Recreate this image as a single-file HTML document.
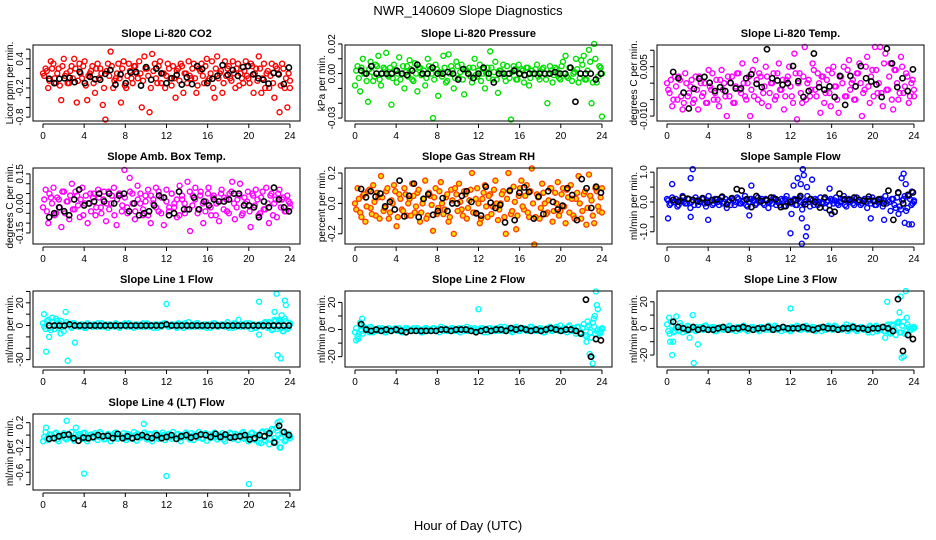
<!DOCTYPE html>
<html><head><meta charset="utf-8">
<style>
html,body{margin:0;padding:0;background:#fff;}
svg{display:block;font-family:"Liberation Sans",Arial,sans-serif;}
</style></head>
<body>
<svg id="chart" width="936" height="540" viewBox="0 0 936 540" xmlns="http://www.w3.org/2000/svg">
<rect x="0" y="0" width="936" height="540" fill="#fff"/>
<text x="468" y="15" text-anchor="middle" font-size="13">NWR_140609  Slope Diagnostics</text>
<text x="468" y="530" text-anchor="middle" font-size="13">Hour of Day (UTC)</text>
<g id="panels"></g>
</svg>
<script>
// ---- data ----
const xTicks = [0,4,8,12,16,20,24];
const p1c = [0.1,0.2,-0.2,0.35,0.3,-0.1,0.2,-0.45,0.4,0.1,-0.1,0.25,0.4,-0.5,0.3,0.0,0.35,-0.45,0.1,0.25,-0.3,0.3,0.2,-0.55,-0.85,0.3,0.55,-0.2,0.0,0.3,-0.5,0.35,-0.2,0.3,0.0,0.25,0.1,0.35,-0.6,0.45,0.2,-0.7,0.5,0.3,-0.1,0.35,0.1,-0.2,0.3,0.0,0.25,-0.4,0.2,0.3,-0.3,0.1,0.35,0.0,0.3,-0.3,0.2,0.3,-0.1,0.4,0.0,0.35,-0.4,0.45,0.1,-0.3,0.35,0.2,0.0,0.35,-0.2,0.3,0.1,-0.1,0.35,0.0,0.3,-0.3,0.2,0.45,-0.3,0.3,0.1,-0.2,0.3,-0.4,0.2,-0.7,0.3,-0.2,-0.6,-0.2];
const q1c = [0.05,0.15,-0.05,0.2,0.0,0.1,-0.15,0.25,0.05,-0.1,0.15,0.0,0.2,-0.05,0.1,0.25,-0.15,0.05,0.15,-0.1,0.2,0.0,0.1,-0.2,0.15,0.05,0.25,-0.05,0.1,0.0,0.2,-0.15,0.05,0.15,-0.1,0.25,0.0,0.1,-0.05,0.2,0.05,-0.2,0.15,0.0,0.25,-0.1,0.1,0.05,0.2,-0.15,0.0,0.15,-0.05,0.25,0.1,-0.1,0.05,0.2,0.0,-0.15,0.15,0.05,0.25,-0.05,0.1,-0.2,0.2,0.0,0.15,-0.1,0.05,0.25,-0.05,0.1,0.2,-0.15,0.0,0.15,0.05,-0.1,0.25,0.1,-0.05,0.2,0.0,-0.2,0.15,0.05,-0.1,0.25,0.1,-0.15,0.2,0.0,0.1,-0.05];
const p1k = [-0.01,-0.1,-0.01,0,0.01,-0.08,0.13,-0.1,0.03,-0.02,-0.03,0.09,0.17,-0.13,0.08,-0.1,0.12,0.13,-0.15,0.23,-0.03,0.2,0.1,-0.1,0,0.07,-0.13,0.02,-0.12,0.25,0.19,-0.1,-0.01,0.05,0.27,0.07,0.17,0.05,0.23,0.25,0.08,0,-0.03,-0.11,0.11,0.08,-0.12,0.22];
const p2c = [-0.008,0.005,-0.012,0.01,0.0,-0.019,0.008,-0.005,0.006,0.012,-0.008,0.004,0.014,-0.002,-0.021,0.006,-0.006,0.011,0.0,-0.01,0.005,0.009,-0.004,0.007,-0.012,0.004,0.0,-0.008,0.01,0.003,-0.03,0.006,-0.015,0.0,0.012,-0.006,0.013,0.005,-0.01,0.008,-0.003,0.006,-0.014,0.002,0.004,-0.006,0.01,-0.002,0.006,0.0,-0.01,0.004,0.015,-0.004,0.008,-0.013,0.002,0.006,-0.005,0.0,-0.031,0.005,-0.004,0.006,0.003,-0.006,0.004,-0.008,0.002,0.0,0.006,-0.004,0.003,0.0,-0.02,0.005,-0.006,0.004,0.0,-0.004,0.008,0.012,-0.003,0.004,0.0,0.01,-0.006,0.009,0.012,-0.004,0.016,-0.02,0.02,-0.006,0.005,-0.029];
const q2c = [0.002,-0.003,0.004,0.0,-0.005,0.003,0.001,-0.002,0.005,-0.004,0.0,0.003,-0.001,0.004,-0.003,0.002,0.0,-0.004,0.005,0.001,-0.002,0.003,-0.005,0.0,0.004,-0.001,0.002,-0.003,0.005,0.0,-0.004,0.003,0.001,-0.002,0.004,-0.005,0.0,0.002,-0.003,0.005,0.001,-0.004,0.003,0.0,-0.002,0.004,-0.001,0.002,-0.005,0.003,0.0,-0.003,0.004,0.001,-0.004,0.002,0.0,-0.002,0.005,-0.003,0.001,0.003,-0.004,0.0,0.002,-0.001,0.004,-0.003,0.0,0.003,-0.002,0.001,0.004,-0.004,0.0,0.002,-0.001,0.003,-0.003,0.005,0.0,-0.002,0.004,-0.005,0.001,0.003,-0.003,0.006,-0.004,0.002,0.008,-0.006,0.01,-0.002,0.004,0.0];
const p2k = [0.002,0.0,0.005,0.0,0.0,0.0,0.0,0.002,0.0,-0.001,0.002,0.006,0.0,0.0,0.004,0.0,0.0,0.001,0.0,-0.004,0.003,0.0,-0.003,0.0,0.004,0.0,-0.006,0.0,0.0,0.0,0.002,0.0,-0.001,0.0,0.0,0.0,0.0,0.0,0.001,0.0,0.0,0.004,-0.019,0.0,0.0,0.0,-0.004,0.0];
const p3c = [0.0,-0.003,-0.007,0.002,-0.005,0.001,-0.008,0.003,-0.004,-0.001,-0.006,0.002,-0.008,0.0,-0.003,-0.006,0.004,-0.002,-0.005,0.001,-0.007,0.004,0.0,-0.01,-0.004,0.002,-0.006,0.003,-0.002,0.006,-0.004,0.0,-0.01,0.004,0.007,-0.005,0.002,-0.003,0.005,-0.007,0.0,0.003,-0.004,0.006,-0.002,-0.008,0.001,0.005,-0.004,0.009,-0.011,0.003,-0.006,0.011,0.0,-0.004,0.006,-0.002,0.003,-0.009,0.002,-0.003,0.004,-0.007,0.005,-0.001,-0.009,0.002,0.005,-0.004,0.007,0.0,-0.005,0.003,0.006,-0.01,-0.002,0.008,-0.006,0.004,0.011,-0.003,0.011,-0.007,0.009,-0.002,0.006,-0.008,0.004,-0.005,0.008,-0.003,0.003,-0.006,0.0,-0.004];
const q3c = [-0.002,0.001,-0.005,-0.001,0.002,-0.004,-0.006,0.0,-0.003,0.001,-0.005,-0.002,0.002,-0.004,0.0,-0.006,-0.001,0.003,-0.003,-0.005,0.001,-0.002,-0.004,0.002,0.0,-0.006,-0.001,0.003,-0.003,0.0,-0.005,0.002,-0.002,-0.004,0.001,0.003,-0.006,-0.001,0.002,-0.003,0.0,-0.005,0.003,-0.002,0.001,-0.004,0.002,-0.001,-0.006,0.003,0.0,-0.003,0.002,-0.005,0.001,-0.002,0.004,-0.004,0.0,0.002,-0.006,0.001,-0.003,0.003,-0.001,-0.005,0.002,0.0,-0.004,0.004,-0.002,0.001,-0.005,0.003,0.0,-0.003,0.005,-0.001,0.002,-0.004,0.004,0.0,-0.003,0.006,-0.002,0.002,-0.005,0.004,0.0,-0.003,0.005,-0.001,0.002,-0.004,0.001,-0.002];
const p3k = [0.0034,0.0015,-0.0029,-0.0077,-0.0017,0.0014,0.0019,0.0001,-0.0024,-0.0012,-0.0024,0.0001,-0.0016,-0.0016,0.0015,0.0027,-0.0002,-0.0012,0.0103,0.0015,0.0008,-0.0005,0.0,0.0052,0.0006,-0.0042,-0.0024,0.009,-0.0012,-0.002,-0.001,-0.0042,0.0022,-0.0066,0.0022,-0.001,0.0052,0.0015,0.0005,-0.0004,-0.0042,0.0105,0.006,-0.0012,0.0015,-0.0024,0.0042];
const p4c = [-0.02,0.07,-0.1,0.03,0.08,-0.05,0.02,-0.12,0.06,0.01,-0.08,0.1,-0.03,0.04,-0.07,0.08,0.0,-0.1,0.05,0.03,-0.06,0.07,-0.02,0.02,-0.09,0.06,0.0,0.08,-0.11,0.05,-0.04,0.17,-0.02,0.13,0.05,-0.08,0.09,0.0,-0.06,0.04,0.07,-0.1,0.02,0.08,-0.04,0.03,-0.11,0.07,-0.02,0.05,0.0,-0.07,0.09,0.02,-0.05,0.11,-0.14,0.04,0.08,-0.03,0.06,-0.1,0.01,0.08,-0.06,0.04,0.0,-0.09,0.07,0.03,-0.04,0.05,0.11,-0.08,0.02,0.1,-0.05,0.0,0.06,-0.12,0.04,0.07,-0.06,0.03,-0.03,0.08,-0.1,0.05,0.0,-0.07,0.07,0.02,-0.04,0.04,-0.02];
const q4c = [0.02,-0.04,0.05,0.0,-0.06,0.03,-0.02,0.06,-0.05,0.01,0.04,-0.03,0.06,-0.01,0.02,-0.06,0.04,0.0,-0.04,0.05,-0.02,0.03,-0.05,0.06,0.0,-0.03,0.04,-0.06,0.02,0.05,-0.01,0.03,-0.05,0.06,0.0,-0.04,0.02,0.05,-0.03,0.01,-0.06,0.04,0.0,-0.02,0.06,-0.05,0.03,0.01,-0.04,0.05,-0.02,0.02,-0.06,0.04,0.0,-0.03,0.06,-0.01,0.02,-0.05,0.04,0.0,-0.04,0.05,-0.02,0.03,-0.06,0.01,0.05,-0.03,0.02,-0.05,0.06,0.0,-0.02,0.04,-0.06,0.03,0.01,-0.04,0.05,-0.01,0.02,-0.05,0.06,-0.03,0.0,0.04,-0.06,0.02,0.05,-0.02,0.03,-0.04,0.01,0.0];
const p4k = [-0.07,-0.05,-0.02,-0.04,-0.06,0.02,0.07,-0.01,0.0,0.01,0.05,0.01,0.05,0.0,0.04,0.05,-0.04,0,-0.06,-0.05,-0.04,-0.01,0.04,0.03,-0.06,-0.05,0.06,-0.03,-0.03,0.03,-0.03,0.01,-0.01,0.02,0.01,0.01,0.02,0.05,0.05,-0.01,-0.01,-0.02,-0.07,0.01,-0.02,0.08,0.02,-0.02,-0.04];
const p5c = [0.0,0.1,-0.06,0.05,-0.12,0.08,-0.03,0.12,-0.08,0.04,0.18,-0.05,0.08,-0.1,0.02,0.12,-0.15,0.06,-0.04,0.1,-0.08,0.03,0.13,-0.06,0.07,-0.12,0.0,0.15,-0.08,0.05,-0.18,0.1,-0.03,0.14,-0.07,0.04,-0.12,0.09,-0.2,0.06,0.13,-0.04,0.08,-0.1,0.02,0.2,-0.06,0.1,-0.13,0.03,0.12,-0.09,0.06,-0.02,0.15,-0.11,0.0,0.08,-0.2,0.2,-0.07,0.11,-0.17,0.05,0.15,-0.04,0.12,-0.09,0.23,-0.27,0.06,-0.1,0.13,0.0,-0.06,0.1,-0.12,0.07,0.14,-0.05,0.1,-0.13,0.04,0.12,-0.08,0.03,0.18,-0.1,0.06,-0.14,0.19,0.02,-0.13,0.08,-0.05,0.1];
const q5c = [-0.04,0.03,-0.09,0.06,-0.02,0.09,-0.07,0.01,0.07,-0.1,0.04,-0.03,0.1,-0.06,0.0,0.08,-0.09,0.03,-0.05,0.06,0.0,-0.08,0.05,-0.02,0.09,-0.06,0.03,-0.1,0.07,-0.01,0.04,-0.07,0.08,0.0,-0.04,0.06,-0.09,0.02,0.1,-0.05,0.01,-0.08,0.06,-0.03,0.09,-0.06,0.03,0.0,-0.1,0.07,-0.02,0.05,-0.07,0.09,0.0,-0.04,0.06,-0.09,0.03,0.08,-0.05,0.01,-0.08,0.1,-0.02,0.05,-0.06,0.08,0.0,-0.09,0.04,-0.03,0.07,-0.07,0.02,0.1,-0.05,0.0,-0.08,0.06,-0.02,0.09,-0.06,0.03,-0.1,0.07,0.0,-0.05,0.08,-0.03,0.05,-0.08,0.1,-0.02,0.04,-0.06];
const p5k = [0.095,0.04,0.08,0.045,0.065,-0.02,0.01,-0.04,0.15,-0.085,0.05,0.13,-0.09,0.03,0.06,-0.075,-0.05,0.035,-0.05,0.0,0.0,0.05,0.08,0.01,-0.065,-0.08,0.11,0.005,-0.03,-0.01,-0.125,0.085,-0.11,0.07,0.105,0.075,-0.1,0.045,-0.07,0.08,0.01,-0.04,-0.015,0.1,0.055,-0.11,0.16,0.1,-0.03,0.11,0.07];
const p6c = [0.1,-0.1,0.15,0.0,-0.15,0.05,0.2,-0.05,0.1,-0.2,0.05,0.15,-0.1,0.0,0.1,-0.15,0.2,0.05,-0.05,0.1,-0.1,0.15,0.0,-0.2,0.05,0.1,-0.1,0.15,-0.05,0.0,0.2,-0.15,0.1,0.05,-0.1,0.15,0.0,-0.05,0.1,-0.2,0.05,0.15,-0.1,0.0,0.1,-0.15,0.2,0.05,-0.05,0.1,-0.1,0.15,-0.25,0.0,0.2,-0.15,0.05,0.1,-0.1,0.15,0.0,-0.2,0.05,0.1,-0.05,0.15,-0.1,0.0,0.2,-0.15,0.1,0.05,-0.1,0.15,0.0,-0.05,0.1,-0.2,0.05,0.15,-0.1,0.0,0.1,-0.15,0.2,0.05,-0.3,0.1,-0.2,0.3,-0.25,0.1,-0.3,0.2,-0.1,0.0];
const q6c = [0.05,-0.05,0.0,0.1,-0.1,0.05,0.0,-0.05,0.1,0.0,-0.1,0.05,0.0,0.1,-0.05,0.05,0.0,-0.1,0.1,0.0,0.05,-0.05,0.1,0.0,-0.1,0.05,0.0,0.1,-0.05,0.05,-0.1,0.0,0.1,0.05,-0.05,0.0,0.1,-0.1,0.05,0.0,-0.05,0.1,0.0,-0.1,0.05,0.1,-0.05,0.0,0.05,-0.1,0.1,0.0,-0.05,0.05,0.0,0.1,-0.1,0.05,0.0,-0.05,0.1,0.0,-0.1,0.05,0.05,-0.05,0.0,0.1,-0.1,0.05,0.0,-0.05,0.1,0.0,-0.1,0.05,0.0,0.1,-0.05,0.05,-0.1,0.0,0.1,0.05,-0.05,0.0,0.1,-0.1,0.15,-0.15,0.05,0.2,-0.2,0.1,-0.05,0.05];
const p6oh = [0.1,0.5,2.3,2.5,2.3,4.0,8.2,8.0,15.8,16.0,12.0,12.3,12.1,12.7,13.0,13.2,13.3,13.1,13.1,13.5,13.6,13.6,14.1,19.8,21.1,22.8,23.0,23.2,22.5,23.1,23.5,23.8,23.8];
const p6ov = [-0.55,0.6,0.8,1.1,-0.5,-0.6,0.55,-0.45,0.45,-0.4,-1.05,0.55,-0.4,0.8,0.6,1.1,0.9,-0.55,-1.4,-1.15,-0.85,0.5,0.75,-0.55,-0.6,0.8,0.95,0.6,-0.4,-0.7,-0.75,-0.75,0.35];
const p6k = [0.07,0.01,0.15,0.11,0.07,0.03,0.13,-0.02,0.06,0.09,0.18,-0.08,0.13,0.43,0.38,0.09,-0.17,0.2,0.03,0.06,0.15,0.09,-0.17,-0.14,0,0.06,0.2,-0.08,0.09,0,-0.19,0.15,-0.28,-0.33,0.28,0.09,0.07,0.15,0.07,0.03,0.18,0.03,0.09,-0.05,0.38,-0.6,0.32,-0.05,0.24,0.32];
const p7c = [2,-3,5,-4,3,6,-2,4,-5,3,1,-2,2,0,-1,1,-2,2,0,-1,1,2,-1,0,1,-2,1,0,2,-1,0,1,-1,2,0,-2,1,0,-1,1,2,-1,0,1,-2,1,0,2,-1,0,1,-1,2,0,-2,1,3,-1,1,2,-1,0,1,-2,1,0,2,-1,0,1,-1,3,0,-2,1,0,-1,1,2,-1,-3,1,-2,1,0,2,-1,3,-4,5,-3,4,-2,6,-3,2];
const q7c = [-1,4,-2,3,-3,1,2,-1,0,1,-1,2,0,-1,1,0,-2,1,0,1,-1,0,2,-1,0,1,0,-1,1,-2,0,2,1,-1,0,1,-1,0,2,-1,1,0,-2,1,0,-1,2,0,-1,1,0,-2,1,0,2,-1,0,1,-1,2,0,-1,1,0,-2,2,0,-1,1,0,1,-2,0,2,-1,0,1,-1,0,2,1,-2,0,1,-1,3,-2,2,-3,4,-1,3,-5,4,-2,1];
const p7oh = [0.1,0.3,0.6,0.9,1.4,1.7,2.2,2.4,3.1,12.0,19.0,21.0,21.0,22.5,22.7,22.8,23.1,23.2,23.5,23.6,23.3,22.9];
const p7ov = [10,-23,-10,7,4,-7,12,-31,-15,19,5,21,-8,12,28,-26,-29,9,22,18,-5,5];
const p7k = [0,0,0,0,1,0,0,0,0,0,0,0,0,0,0,0,0,0,0,0,0,0,0,1,0,0,0,0,0,0,0,0,0,0,0,0,0,0,0,0,0,0,0,0,0,0,0,0];
const p8c = [-2,-5,3,-3,1,-1,2,-2,0,1,-1,0,-2,1,-1,0,-1,1,-2,0,1,-1,0,-1,1,0,-2,1,-1,0,1,-1,0,2,-1,0,-1,1,0,-1,1,0,-1,2,0,-1,1,0,-1,1,0,-2,1,0,-1,1,2,-1,0,1,-1,0,2,-1,0,1,-1,0,2,0,-1,1,0,-2,1,2,-1,0,1,3,-1,0,2,-1,1,-3,2,-2,4,-5,3,-6,2,-1,-2,0];
const q8c = [1,-3,-1,2,0,-2,1,-1,-1,0,1,-2,0,-1,0,1,-1,0,-2,1,0,-1,1,0,-1,-2,0,1,0,-1,1,0,-2,0,1,-1,0,1,-1,0,-2,1,0,-1,1,0,-1,0,1,-2,0,1,-1,0,1,-1,0,2,-1,0,-2,1,0,-1,1,0,-1,2,0,-1,0,1,-2,0,1,-1,0,2,-1,0,1,-2,3,-1,0,2,-3,1,-4,2,-2,5,-3,0,-1,1];
const p8oh = [0.1,0.3,0.5,0.7,12.0,22.5,22.8,23.0,23.1,23.2,23.3,23.4,23.5,23.6,23.8,22.6];
const p8ov = [-8,-7,5,8,15,-9,-18,-20,-25,8,10,28,18,15,-3,6];
const p8k = [4,0,-1,0,-1,0,-1,0,-1,-2,-1,-1,-1,-1,-1,-1,0,0,-1,0,0,0,-1,-2,-1,0,-1,0,0,-1,1,0,1,0,-1,0,-1,0,1,0,-1,0,0,-1,-3,22,-20,-7,-8];
const p9c = [3,-4,2,-2,1,4,-3,0,2,-1,1,-2,0,1,-1,2,-1,0,1,-2,0,1,-1,0,2,-1,0,1,-1,0,1,-2,0,1,0,-1,1,0,-1,2,0,-1,1,0,-2,1,0,-1,1,0,2,-1,0,1,-1,0,1,-2,0,1,0,-1,2,0,-1,1,0,-1,1,3,-1,0,1,-2,0,1,-1,0,2,-3,1,-2,0,1,-2,3,-4,2,-5,4,-3,5,-2,1,-1,0];
const q9c = [-2,5,-3,1,-1,2,0,-2,1,0,-1,1,-1,0,2,-1,0,1,-2,0,1,-1,0,1,-1,0,-2,1,0,2,-1,0,1,-1,0,-2,1,0,1,-1,0,2,-1,0,1,-1,0,-2,1,0,1,-1,0,2,-1,0,1,-1,0,-2,1,0,1,-1,2,0,-1,0,1,-2,0,2,-1,0,1,-1,0,-3,1,0,2,-1,1,-2,2,-3,3,-1,4,-3,2,-4,3,-1,0,1];
const p9oh = [0.2,0.3,0.5,0.6,0.9,1.2,2.2,2.5,2.6,3.0,12.0,21.2,21.4,22.5,22.6,22.7,22.8,23.0,23.2,23.3,23.5];
const p9ov = [8,-10,-20,-10,9,-2,-7,10,-26,-12,15,-7,20,5,12,24,-22,-21,28,8,-5];
const p9k = [5,1,0,-1,1,-1,0,-1,-1,0,1,-1,0,0,1,0,-1,0,0,1,-1,0,1,0,0,0,1,0,-1,0,1,0,0,-1,0,0,1,0,0,-1,0,0,1,0,-2,22,-17,-5,-8];
const p10c = [-0.1,0.05,-0.08,0.0,-0.05,0.04,-0.1,-0.02,0.03,-0.07,0.0,0.05,-0.09,-0.03,0.02,-0.06,0.04,-0.1,0.0,-0.04,0.03,-0.08,0.05,-0.02,-0.06,0.02,-0.1,0.0,0.04,-0.05,-0.02,0.03,-0.08,0.01,-0.04,0.05,-0.09,0.0,-0.03,0.04,-0.07,0.02,-0.1,0.03,0.0,-0.05,0.04,-0.08,0.01,-0.03,0.05,-0.06,0.02,-0.1,0.0,0.04,-0.04,0.03,-0.08,0.0,0.05,-0.05,0.02,-0.09,0.01,-0.03,0.04,-0.07,0.0,0.03,-0.1,-0.02,0.04,-0.06,0.02,-0.08,0.0,0.05,-0.04,-0.1,0.03,-0.06,0.0,-0.12,0.04,-0.08,0.06,-0.15,0.1,-0.05,0.12,-0.2,0.05,-0.1,0.0,-0.05];
const q10c = [-0.03,-0.06,0.01,-0.04,0.02,-0.07,-0.01,0.0,-0.05,0.02,-0.03,-0.06,0.01,0.0,-0.04,0.03,-0.06,-0.02,0.01,-0.05,0.0,-0.03,0.02,-0.07,-0.01,0.0,-0.04,0.03,-0.06,0.01,-0.03,-0.05,0.02,-0.01,-0.06,0.0,0.02,-0.04,-0.02,0.01,-0.05,0.0,-0.03,0.03,-0.06,-0.01,0.0,-0.04,0.02,-0.06,-0.02,0.01,-0.05,0.0,-0.03,0.02,-0.07,-0.01,0.01,-0.04,0.0,-0.06,0.03,-0.02,-0.05,0.0,0.02,-0.04,-0.01,-0.07,0.01,-0.03,0.02,-0.05,0.0,-0.02,0.03,-0.06,0.0,-0.04,0.04,-0.08,0.0,-0.05,0.06,-0.1,0.02,-0.06,0.08,-0.12,0.0,-0.04,0.05,-0.08,0.02,-0.02];
const p10oh = [0.3,2.3,3.2,4.0,9.8,12.0,20.0,21.2,22.8,23.0,23.1,22.5];
const p10ov = [0.12,0.23,0.12,-0.62,0.18,-0.66,-0.79,-0.13,0.2,0.22,-0.2,-0.1];
const p10k = [-0.06,-0.05,-0.02,0.0,0.01,-0.05,-0.09,-0.04,-0.05,-0.03,0.0,-0.02,-0.01,-0.05,0.02,-0.05,-0.02,-0.05,-0.03,0.0,-0.03,-0.05,0.0,-0.05,-0.03,0.0,-0.06,-0.02,0.0,-0.04,-0.02,0.01,0.0,-0.03,0.02,-0.03,0.01,-0.04,-0.03,-0.02,0.0,-0.07,-0.05,0.0,-0.02,0.03,-0.12,0.15,0.05,0.0];

const yTicks1 = [-0.8,-0.6,-0.4,-0.2,0,0.2,0.4,0.6];   const yLab1 = [[0.4,"0.4"],[-0.2,"-0.2"],[-0.8,"-0.8"]];
const yTicks2 = [-0.03,-0.02,-0.01,0,0.01,0.02];      const yLab2 = [[0.02,"0.02"],[0,"0.00"],[-0.03,"-0.03"]];
const yTicks3 = [-0.01,-0.005,0,0.005,0.01];          const yLab3 = [[0.005,"0.005"],[-0.01,"-0.010"]];
const yTicks4 = [-0.15,-0.1,-0.05,0,0.05,0.1,0.15];   const yLab4 = [[0.15,"0.15"],[0,"0.00"],[-0.15,"-0.15"]];
const yTicks5 = [-0.2,-0.1,0,0.1,0.2];                const yLab5 = [[0.2,"0.2"],[0,"0.0"],[-0.2,"-0.2"]];
const yTicks6 = [-1,-0.5,0,0.5,1];                    const yLab6 = [[1,"1.0"],[0,"0.0"],[-1,"-1.0"]];
const yTicks7 = [-30,-20,-10,0,10,20,30];             const yLab7 = [[20,"20"],[0,"0"],[-30,"-30"]];
const yTicks8 = [-20,-10,0,10,20];                    const yLab8 = [[20,"20"],[0,"0"],[-20,"-20"]];
const yTicks9 = [-20,-10,0,10,20];                    const yLab9 = [[20,"20"],[0,"0"],[-20,"-20"]];
const yTicks10 = [-0.8,-0.6,-0.4,-0.2,0,0.2];         const yLab10 = [[0.2,"0.2"],[-0.2,"-0.2"],[-0.6,"-0.6"]];

const panels = [
 {name:"co2",title:"Slope Li-820 CO2",ylab:"Licor ppm per min.",col:0,row:0,ylim:[-0.88,0.685],color:"#ff0000",c:p1c,c2:q1c,oh:[],ov:[],k:p1k,ticks:yTicks1,labs:yLab1},
 {name:"pressure",title:"Slope Li-820 Pressure",ylab:"kPa per min.",col:1,row:0,ylim:[-0.032,0.0193],color:"#00e000",c:p2c,c2:q2c,oh:[],ov:[],k:p2k,ticks:yTicks2,labs:yLab2},
 {name:"li820-temp",title:"Slope Li-820 Temp.",ylab:"degrees C per min.",col:2,row:0,ylim:[-0.0115,0.0116],color:"#ff00ff",c:p3c,c2:q3c,oh:[],ov:[],k:p3k,ticks:yTicks3,labs:yLab3},
 {name:"amb-box-temp",title:"Slope Amb. Box Temp.",ylab:"degrees C per min.",col:0,row:1,ylim:[-0.206,0.18],color:"#ff00ff",c:p4c,c2:q4c,oh:[],ov:[],k:p4k,ticks:yTicks4,labs:yLab4},
 {name:"gas-stream-rh",title:"Slope Gas Stream RH",ylab:"percent per min.",col:1,row:1,ylim:[-0.267,0.233],color:"#ff4000",fill:"#ffdd00",c:p5c,c2:q5c,oh:[],ov:[],k:p5k,ticks:yTicks5,labs:yLab5},
 {name:"sample-flow",title:"Slope Sample Flow",ylab:"ml/min per min.",col:2,row:1,ylim:[-1.41,1.14],color:"#0000ff",c:p6c,c2:q6c,oh:p6oh,ov:p6ov,k:p6k,ticks:yTicks6,labs:yLab6},
 {name:"line1-flow",title:"Slope Line 1 Flow",ylab:"ml/min per min.",col:0,row:2,ylim:[-36.5,30.4],color:"#00ffff",c:p7c,c2:q7c,oh:p7oh,ov:p7ov,k:p7k,ticks:yTicks7,labs:yLab7},
 {name:"line2-flow",title:"Slope Line 2 Flow",ylab:"ml/min per min.",col:1,row:2,ylim:[-27.6,28.4],color:"#00ffff",c:p8c,c2:q8c,oh:p8oh,ov:p8ov,k:p8k,ticks:yTicks8,labs:yLab8},
 {name:"line3-flow",title:"Slope Line 3 Flow",ylab:"ml/min per min.",col:2,row:2,ylim:[-29,28.1],color:"#00ffff",c:p9c,c2:q9c,oh:p9oh,ov:p9ov,k:p9k,ticks:yTicks9,labs:yLab9},
 {name:"line4-flow",title:"Slope Line 4 (LT) Flow",ylab:"ml/min per min.",col:0,row:3,ylim:[-0.885,0.34],color:"#00ffff",c:p10c,c2:q10c,oh:p10oh,ov:p10ov,k:p10k,ticks:yTicks10,labs:yLab10}
];

const NS = "http://www.w3.org/2000/svg";
const rowTops = [45,168,291,414];
const BOX_H = 76;
function mk(tag, attrs, parent){
  const e = document.createElementNS(NS, tag);
  for (const a in attrs) e.setAttribute(a, attrs[a]);
  parent.appendChild(e);
  return e;
}
const root = document.getElementById("panels");
panels.forEach(p => {
  const off = p.col*312;
  const top = rowTops[p.row], bot = top + BOX_H;
  const left = 33+off, right = 300+off;
  const xs = h => 43 + off + h*10.29;
  const ys = v => bot - (v - p.ylim[0])/(p.ylim[1]-p.ylim[0])*BOX_H;
  const g = mk("g", {}, root);
  
  
  const t = mk("text", {x:(left+right)/2, y:top-8, "text-anchor":"middle","font-size":"11","font-weight":"bold"}, g);
  t.textContent = p.title;
  
  
  const yl = mk("text", {transform:`translate(${13+off},${(top+bot)/2}) rotate(-90)`, "text-anchor":"middle","font-size":"10"}, g);
  yl.textContent = p.ylab;
  
  
  const pts = mk("g", {}, g);
  
  
  const drawC = (arr, shift) => {
    const n = arr.length;
    arr.forEach((v,i) => {
      const h = Math.min(24, shift + i*24/(n-1));
      const c = mk("circle", {cx:xs(h), cy:ys(v), r:2.5, fill:p.fill||"none", stroke:p.color, "stroke-width":1.4}, pts);
      
      
    });
  };
  drawC(p.c, 0);
  drawC(p.c2, 0.12);
  p.oh.forEach((h,i) => {
    const c = mk("circle", {cx:xs(h), cy:ys(p.ov[i]), r:2.5, fill:p.fill||"none", stroke:p.color, "stroke-width":1.4}, pts);
    
    
  });
  const m = p.k.length;
  p.k.forEach((v,i) => {
    const c = mk("circle", {cx:xs(0.6 + i*23.3/(m-1)), cy:ys(v), r:2.6, fill:"none", stroke:"#000", "stroke-width":1.6}, pts);
    
    
  });
  const b = mk("rect", {x:left, y:top, width:right-left, height:BOX_H, fill:"none", stroke:"#000","stroke-width":1}, g);
  
  
  const xa = mk("g", {}, g);
  
  
  mk("line", {x1:xs(xTicks[0]), x2:xs(xTicks[xTicks.length-1]), y1:bot+3, y2:bot+3, stroke:"#000"}, xa);
  xTicks.forEach(h => {
    mk("line", {x1:xs(h), x2:xs(h), y1:bot+3, y2:bot+7, stroke:"#000"}, xa);
    const tl = mk("text", {x:xs(h), y:bot+18, "text-anchor":"middle","font-size":"10"}, xa);
    tl.textContent = String(h);
    
    
  });
  const ya = mk("g", {}, g);
  
  
  mk("line", {x1:left-3, x2:left-3, y1:ys(p.ticks[0]), y2:ys(p.ticks[p.ticks.length-1]), stroke:"#000"}, ya);
  p.ticks.forEach(v => {
    mk("line", {x1:left-3, x2:left-7, y1:ys(v), y2:ys(v), stroke:"#000"}, ya);
  });
  p.labs.forEach(([v,s]) => {
    const tl = mk("text", {transform:`translate(${left-10},${ys(v)}) rotate(-90)`, "text-anchor":"middle","font-size":"10"}, ya);
    tl.textContent = s;
    
    
  });
});
</script>
</body></html>
